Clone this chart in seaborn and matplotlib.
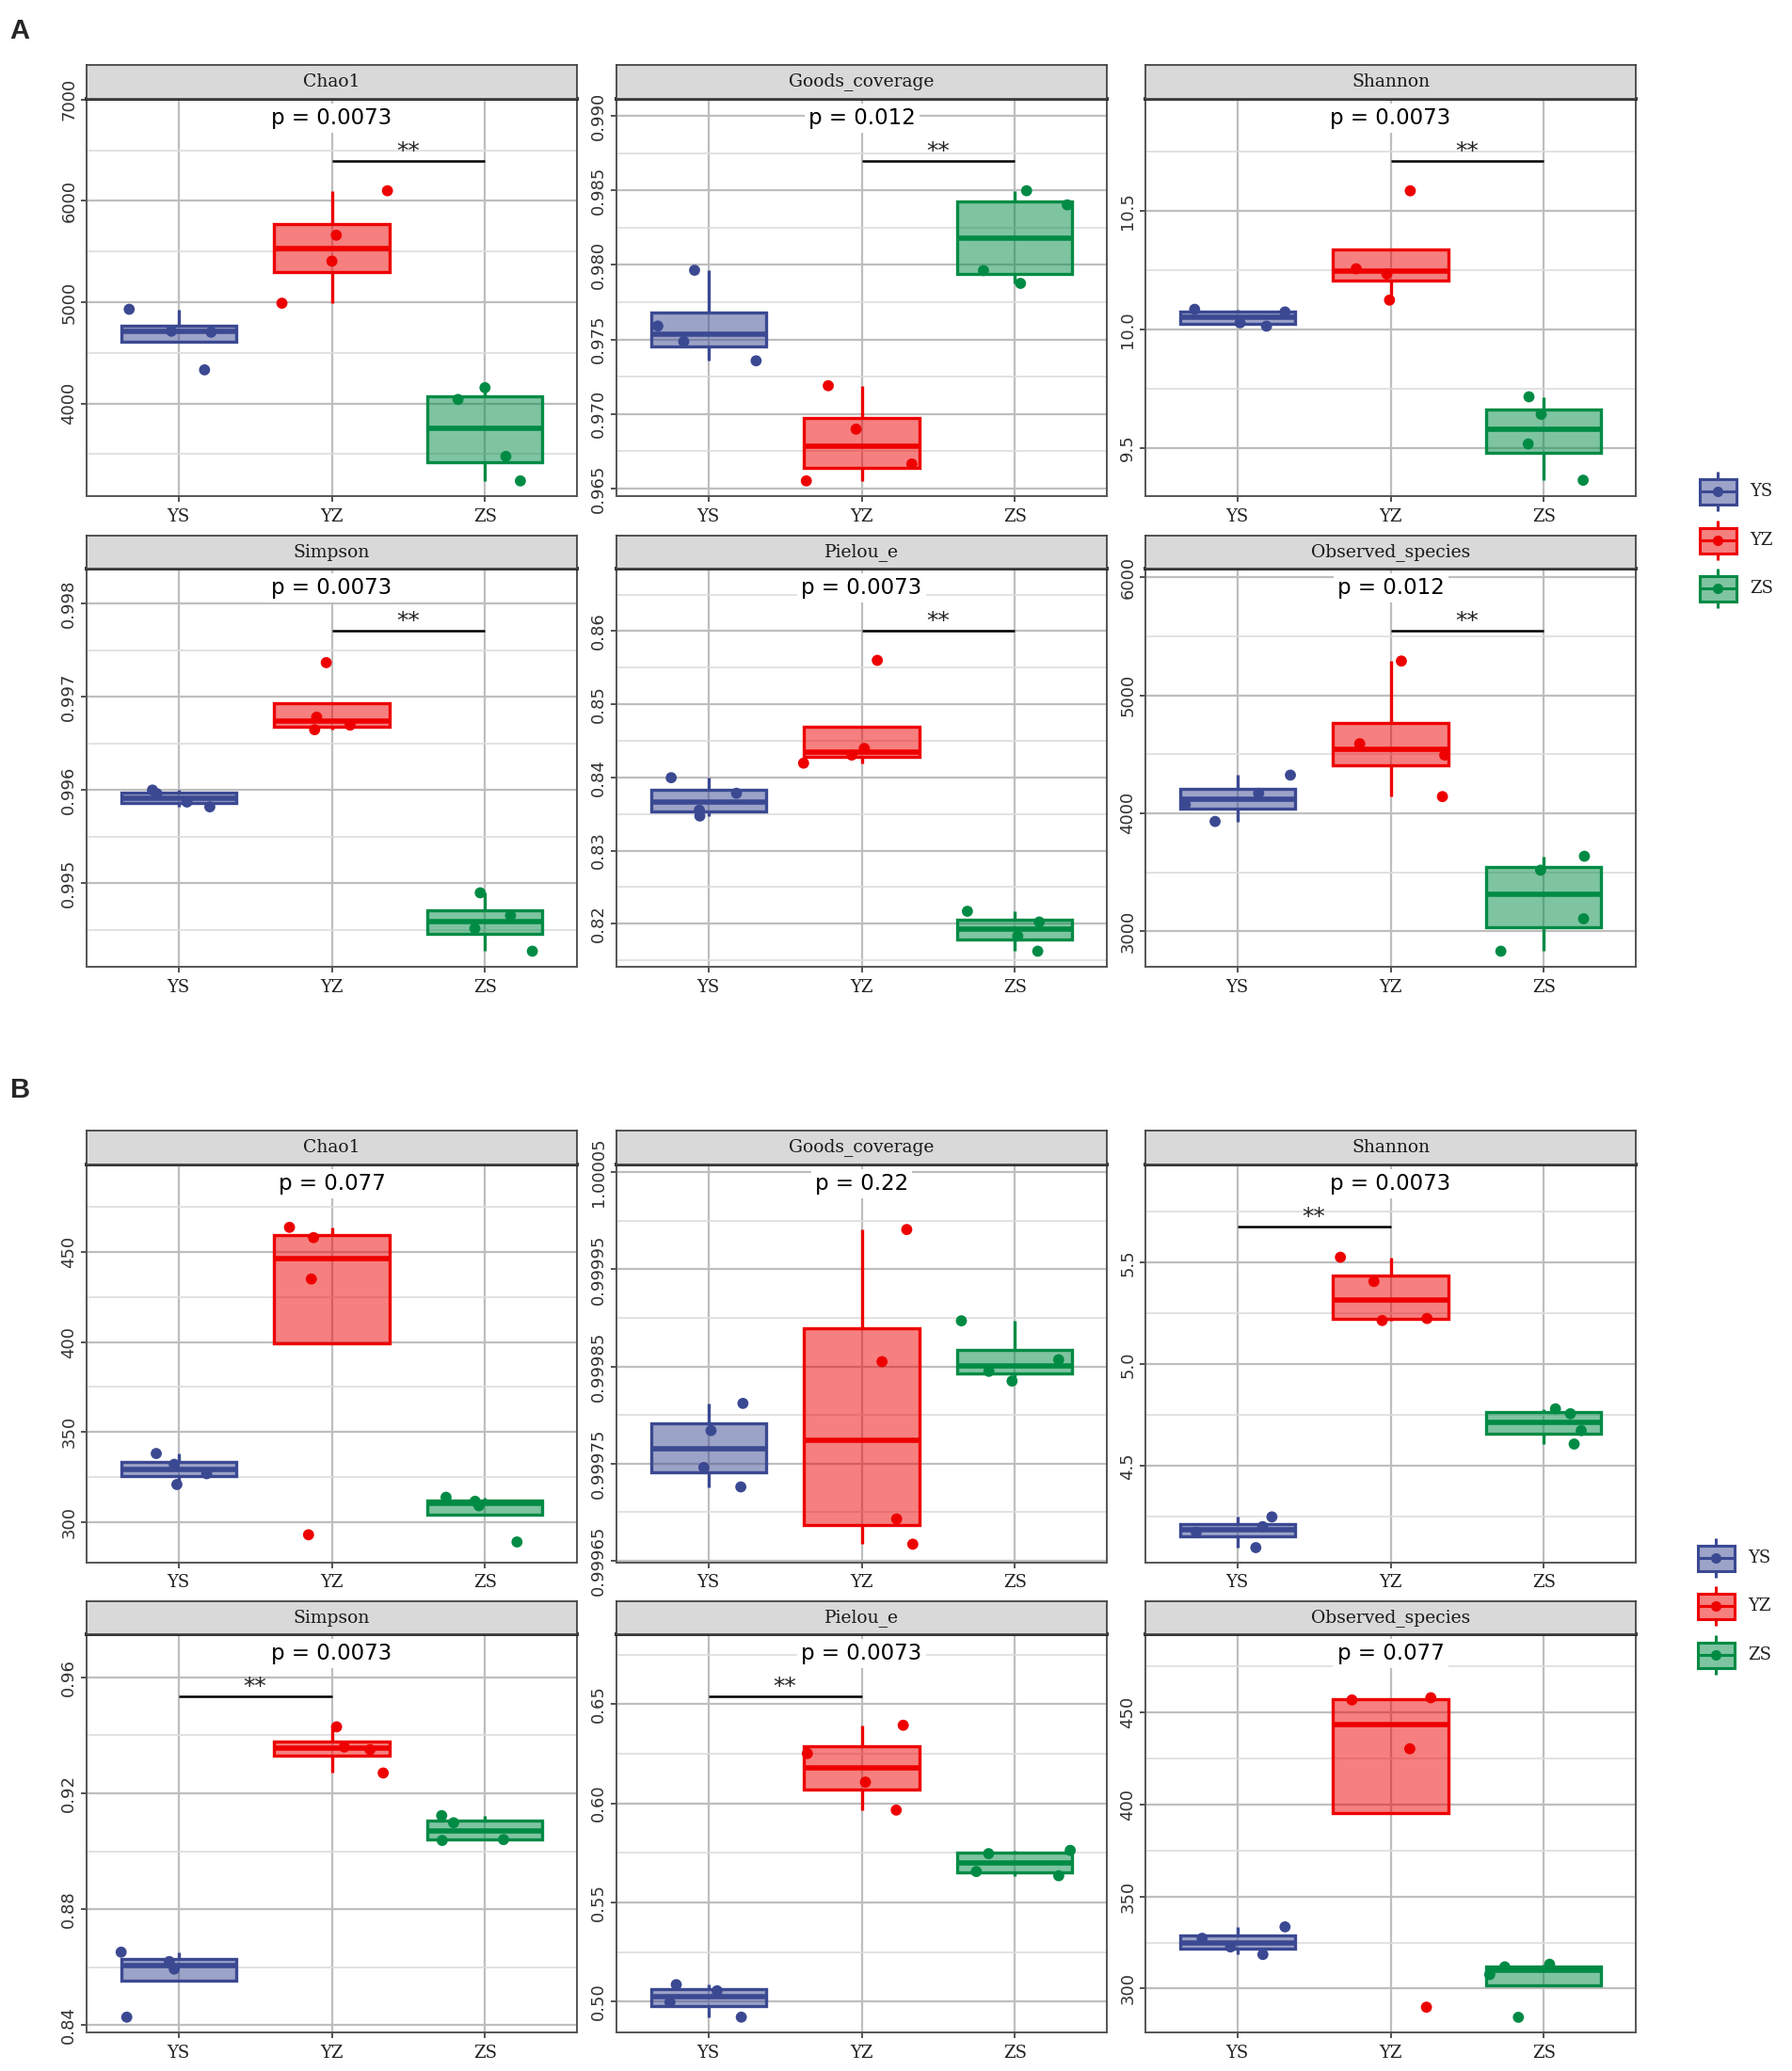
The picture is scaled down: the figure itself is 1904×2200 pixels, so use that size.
import numpy as np
import pandas as pd
import matplotlib
matplotlib.use("Agg")
import matplotlib.pyplot as plt
import matplotlib.colors as mcolors
from matplotlib.ticker import FixedLocator
from matplotlib.patches import Rectangle
import seaborn as sns

# groups and colours (ggsci aaas)
groups = ['YS', 'YZ', 'ZS']
colors = ['#3B4992', '#EE0000', '#008B45']
metrics = ['Chao1', 'Goods_coverage', 'Shannon', 'Simpson', 'Pielou_e', 'Observed_species']

# ---- panel A values (4 samples per group: YS, YZ, ZS)
a_chao1 = [[4930, 4704, 4714, 4332], [6100, 5661, 5405, 4990], [4040, 4156, 3478, 3236]]
a_goods = [[0.97964, 0.97590, 0.97486, 0.97357], [0.97190, 0.96899, 0.96665, 0.96552],
           [0.98497, 0.98402, 0.97962, 0.97876]]
a_shannon = [[10.074, 10.085, 10.028, 10.014], [10.585, 10.234, 10.256, 10.124],
             [9.716, 9.642, 9.517, 9.364]]
a_simpson = [[0.995821, 0.995963, 0.995873, 0.996001], [0.997367, 0.996648, 0.996697, 0.996783],
             [0.994900, 0.994656, 0.994517, 0.994274]]
a_pielou = [[0.83996, 0.83783, 0.83552, 0.83472], [0.85601, 0.84395, 0.84306, 0.84195],
            [0.82169, 0.82022, 0.81831, 0.81623]]
a_observed = [[4323, 4169, 4073, 3930], [5290, 4589, 4493, 4141], [3635, 3517, 3105, 2830]]

a_pvalues = ['0.0073', '0.012', '0.0073', '0.0073', '0.0073', '0.012']
a_pairs = [(1, 2), (1, 2), (1, 2), (1, 2), (1, 2), (1, 2)]
a_ticks = [[4000, 5000, 6000, 7000], [0.965, 0.970, 0.975, 0.980, 0.985, 0.990],
           [9.5, 10.0, 10.5], [0.995, 0.996, 0.997, 0.998],
           [0.82, 0.83, 0.84, 0.85, 0.86], [3000, 4000, 5000, 6000]]
a_ticklabels = [['4000', '5000', '6000', '7000'],
                ['0.965', '0.970', '0.975', '0.980', '0.985', '0.990'],
                ['9.5', '10.0', '10.5'], ['0.995', '0.996', '0.997', '0.998'],
                ['0.82', '0.83', '0.84', '0.85', '0.86'], ['3000', '4000', '5000', '6000']]
a_ylims = [(3086, 7007), (0.9645, 0.99113), (9.297, 10.973), (0.994107, 0.998375),
           (0.8141, 0.86856), (2698, 6074)]

# ---- panel B values
b_chao1 = [[338.1, 332.1, 326.9, 320.9], [463.7, 458.0, 435.0, 293.0], [313.8, 311.6, 309.1, 289.0]]
b_goods = [[0.999812, 0.999784, 0.999746, 0.999726], [0.999991, 0.999855, 0.999693, 0.999667],
           [0.999897, 0.999857, 0.999845, 0.999835]]
b_shannon = [[4.250, 4.202, 4.174, 4.099], [5.526, 5.407, 5.225, 5.215], [4.781, 4.757, 4.674, 4.608]]
b_simpson = [[0.86521, 0.86196, 0.85938, 0.84280], [0.94286, 0.93591, 0.93501, 0.92695],
             [0.91227, 0.90980, 0.90400, 0.90370]]
b_pielou = [[0.50852, 0.50541, 0.49967, 0.49213], [0.63934, 0.62508, 0.61066, 0.59656],
            [0.57623, 0.57459, 0.56557, 0.56344]]
b_observed = [[333.5, 327.3, 322.6, 318.5], [457.9, 456.7, 430.2, 289.9], [313.2, 311.8, 307.6, 284.4]]

b_pvalues = ['0.077', '0.22', '0.0073', '0.0073', '0.0073', '0.077']
b_pairs = [None, None, (0, 1), (0, 1), (0, 1), None]
b_ticks = [[300, 350, 400, 450], [0.99965, 0.99975, 0.99985, 0.99995, 1.00005],
           [4.5, 5.0, 5.5], [0.84, 0.88, 0.92, 0.96],
           [0.50, 0.55, 0.60, 0.65], [300, 350, 400, 450]]
b_ticklabels = [['300', '350', '400', '450'],
                ['0.99965', '0.99975', '0.99985', '0.99995', '1.00005'],
                ['4.5', '5.0', '5.5'], ['0.84', '0.88', '0.92', '0.96'],
                ['0.50', '0.55', '0.60', '0.65'], ['300', '350', '400', '450']]
b_ylims = [(277.5, 498.6), (0.999648, 1.000058), (4.025, 5.982), (0.83754, 0.97479),
           (0.48443, 0.68525), (276.2, 492.4)]

# ---- layout (pixels)
W, H = 1904, 2200
col_left = [92, 655, 1217]
panel_w = 521
# (strip top, plot top, plot bottom)
rows_a = [(69, 105, 527), (569, 604, 1027)]
rows_b = [(1201, 1237, 1660), (1701, 1736, 2159)]

sns.set_style('white')
plt.rcParams['font.family'] = ['DejaVu Sans']
np.random.seed(7)

fig = plt.figure(figsize=(W / 100, H / 100), dpi=100)


def draw_panel(rect_px, values, title, pval, pair, ticks, ticklabels, ylim):
    left, s_top, p_top, p_bot = rect_px
    ax = fig.add_axes([left / W, 1 - p_bot / H, panel_w / W, (p_bot - p_top) / H])
    sax = fig.add_axes([left / W, 1 - p_top / H, panel_w / W, (p_top - s_top) / H])

    rows = [(g, v) for g, vals in zip(groups, values) for v in vals]
    df = pd.DataFrame(rows, columns=['group', 'value'])

    for g, c in zip(groups, colors):
        n = len(ax.patches)
        sns.boxplot(data=df[df['group'] == g], x='group', y='value', order=groups,
                    color=c, linecolor=c, saturation=1, width=0.75, showfliers=False,
                    linewidth=2.4, medianprops={'linewidth': 4},
                    capprops={'visible': False}, ax=ax)
        for patch in ax.patches[n:]:
            patch.set_facecolor(mcolors.to_rgba(c, 0.5))
            patch.set_edgecolor(c)

    sns.stripplot(data=df, x='group', y='value', hue='group', order=groups, hue_order=groups,
                  palette=colors, jitter=0.38, size=8.5, linewidth=0, legend=False,
                  zorder=5, ax=ax)

    ax.set_xlim(-0.6, 2.6)
    ax.set_ylim(*ylim)
    ax.set_xlabel('')
    ax.set_ylabel('')
    ax.set_xticks([0, 1, 2])
    ax.set_xticklabels(groups, fontfamily='DejaVu Serif', fontsize=13, color='#222222')

    step = ticks[1] - ticks[0]
    minors = [t - step / 2 for t in ticks] + [ticks[-1] + step / 2]
    minors = [m for m in minors if ylim[0] < m < ylim[1]]
    ax.yaxis.set_major_locator(FixedLocator(ticks))
    ax.yaxis.set_minor_locator(FixedLocator(minors))
    ax.set_yticklabels(ticklabels, fontsize=13, color='#333333')
    plt.setp(ax.get_yticklabels(), rotation=90, va='center')

    ax.set_axisbelow(True)
    ax.grid(which='major', color='#BEBEBE', linewidth=1.6)
    ax.grid(which='minor', axis='y', color='#DDDDDD', linewidth=1.2)
    ax.tick_params(axis='both', which='major', length=4, width=1.2, color='#333333',
                   left=True, bottom=True)
    ax.tick_params(axis='y', pad=3)
    ax.tick_params(axis='x', pad=5)
    ax.tick_params(which='minor', length=0)
    for side, sp in ax.spines.items():
        sp.set_color('#555555')
        sp.set_linewidth(1.4)
    ax.spines['top'].set_color('#222222')
    ax.spines['top'].set_linewidth(2.8)

    # strip
    sax.set_facecolor('#D9D9D9')
    sax.set_xticks([])
    sax.set_yticks([])
    for sp in sax.spines.values():
        sp.set_color('#444444')
        sp.set_linewidth(1.3)
    sax.text(0.5, 0.5, title, ha='center', va='center', fontfamily='DejaVu Serif',
             fontsize=13.5, color='#1A1A1A', transform=sax.transAxes)

    # test annotations
    tr = ax.get_xaxis_transform()
    ax.text(1, 0.952, 'p = ' + pval, transform=tr, ha='center', va='center', fontsize=16.5,
            color='black', zorder=10,
            bbox=dict(facecolor='white', edgecolor='none', pad=3))
    if pair is not None:
        ax.plot(list(pair), [0.844, 0.844], transform=tr, color='black', lw=1.8, zorder=9,
                solid_capstyle='butt')
        ax.text(sum(pair) / 2, 0.851, '**', transform=tr, ha='center', va='baseline',
                fontsize=18, color='#222222', zorder=10)
    return ax


panels_a = [a_chao1, a_goods, a_shannon, a_simpson, a_pielou, a_observed]
panels_b = [b_chao1, b_goods, b_shannon, b_simpson, b_pielou, b_observed]

for block, rows_px in ((0, rows_a), (1, rows_b)):
    vals_list = panels_a if block == 0 else panels_b
    pv = a_pvalues if block == 0 else b_pvalues
    pairs = a_pairs if block == 0 else b_pairs
    tks = a_ticks if block == 0 else b_ticks
    tls = a_ticklabels if block == 0 else b_ticklabels
    ylims = a_ylims if block == 0 else b_ylims
    for i in range(6):
        r, c = divmod(i, 3)
        s_top, p_top, p_bot = rows_px[r]
        draw_panel((col_left[c], s_top, p_top, p_bot), vals_list[i], metrics[i], pv[i],
                   pairs[i], tks[i], tls[i], ylims[i])

# overlay for panel letters and legends
over = fig.add_axes([0, 0, 1, 1], zorder=10)
over.set_xlim(0, W)
over.set_ylim(H, 0)
over.axis('off')
over.patch.set_alpha(0)

over.text(10, 41, 'A', fontfamily='Liberation Sans', fontweight='bold', fontsize=21,
          va='baseline', ha='left')
over.text(11, 1166, 'B', fontfamily='Liberation Sans', fontweight='bold', fontsize=21,
          va='baseline', ha='left')

legend_centers = [[522, 574, 625], [1655, 1706, 1758]]
legend_x = [1825, 1823]
for lx, centers in zip(legend_x, legend_centers):
    for g, c, yc in zip(groups, colors, centers):
        over.add_patch(Rectangle((lx - 19.5, yc - 13.5), 39, 27, facecolor=mcolors.to_rgba(c, 0.5),
                                 edgecolor=c, lw=2.2))
        over.plot([lx, lx], [yc - 21, yc - 13.5], color=c, lw=2.2, solid_capstyle='butt')
        over.plot([lx, lx], [yc + 13.5, yc + 21], color=c, lw=2.2, solid_capstyle='butt')
        over.plot([lx - 19.5, lx + 19.5], [yc, yc], color=c, lw=2.2)
        over.plot([lx], [yc], marker='o', ms=8, color=c, mec='none')
        over.text(lx + 34, yc, g, fontfamily='DejaVu Serif', fontsize=13, va='center',
                  ha='left', color='#222222')

fig.savefig('out.png', dpi=100, facecolor='white')
